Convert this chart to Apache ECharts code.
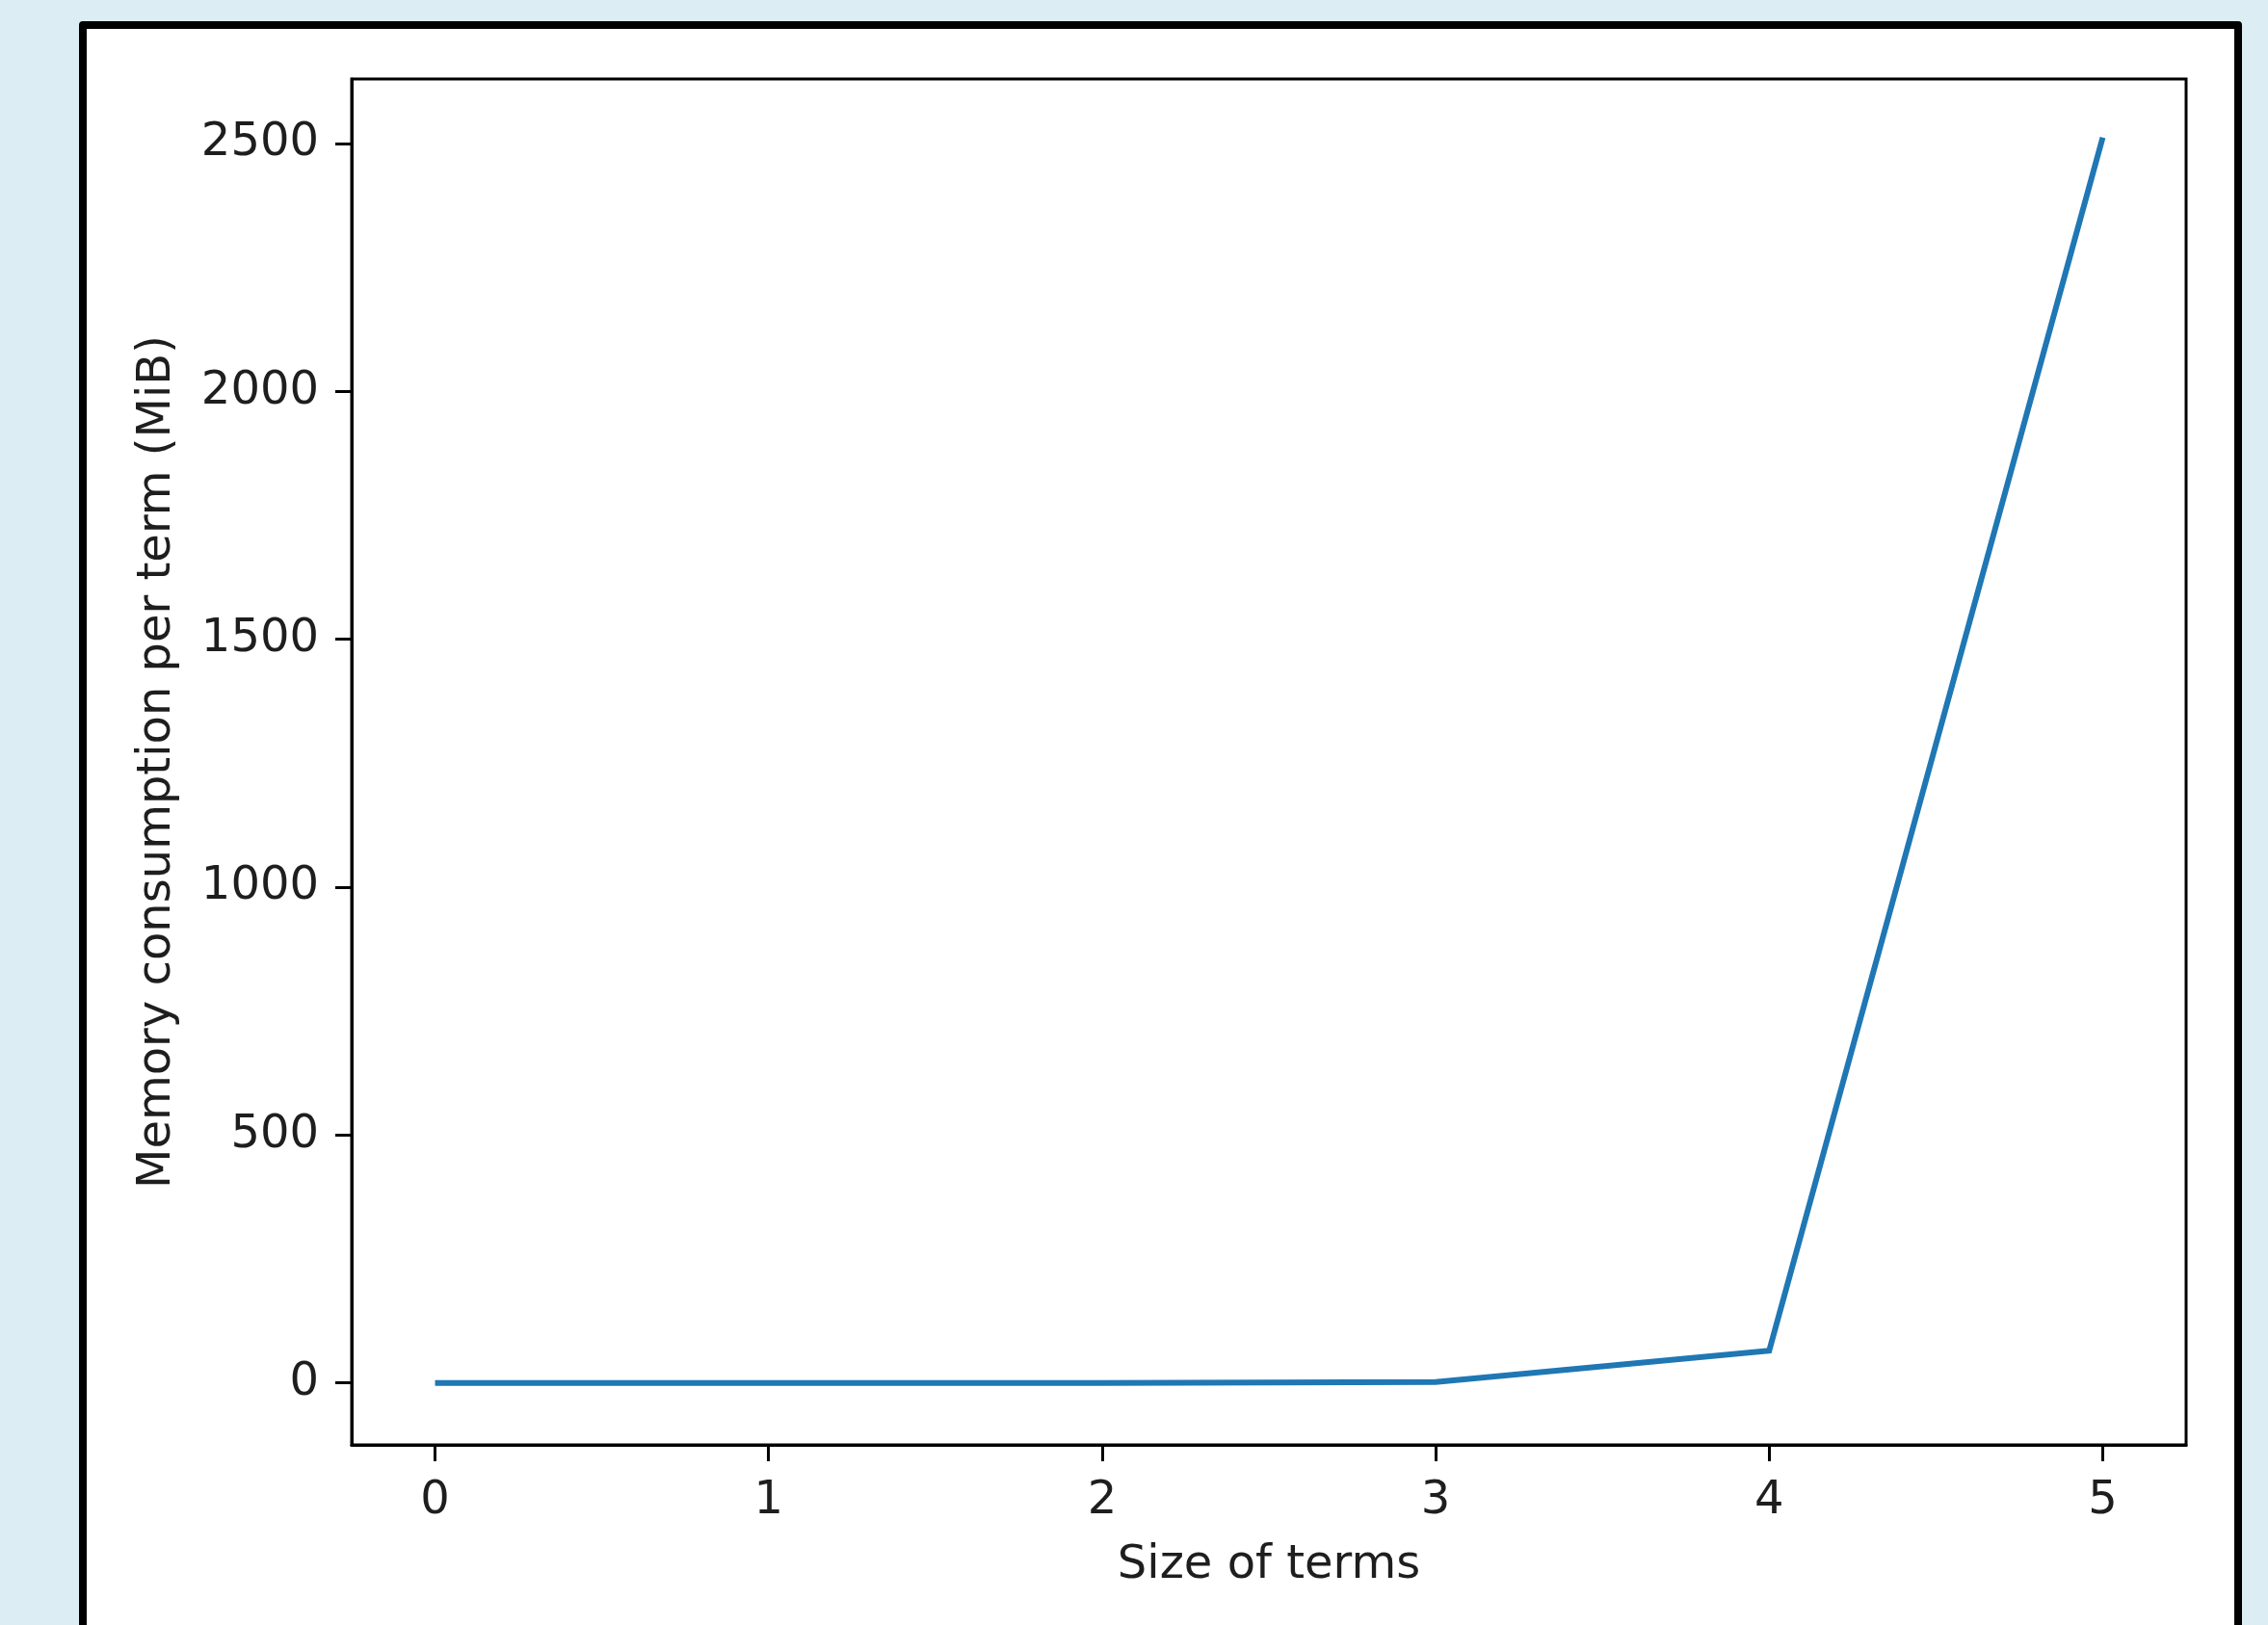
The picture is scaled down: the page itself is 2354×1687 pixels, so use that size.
<!DOCTYPE html>
<html>
<head>
<meta charset="utf-8">
<script src="https://cdn.jsdelivr.net/npm/echarts@6/dist/echarts.min.js"></script>
<style>
  html, body { margin: 0; padding: 0; width: 2354px; height: 1687px; overflow: hidden; background: rgb(220,238,243); }
  #frame { position: absolute; left: 82px; top: 22px; width: 2245px; height: 1720px; box-sizing: border-box;
           border: 8px solid #000; border-radius: 4px; background: #fff; }
  #chart { position: absolute; left: 0; top: 0; width: 2354px; height: 1687px; }
</style>
</head>
<body>
<div id="frame"></div>
<div id="chart"></div>
<script>
// Data
const sizes = [0, 1, 2, 3, 4, 5];
const memoryMiB = [0, 0, 0, 2, 65, 2512];
const xTickValues = [0, 1, 2, 3, 4, 5];
const yTickValues = [0, 500, 1000, 1500, 2000, 2500];
const xAxisName = 'Size of terms';
const yAxisName = 'Memory consumption per term (MiB)';

const seriesData = sizes.map((s, i) => [s, memoryMiB[i]]);

const FONT = 'DejaVu Sans';
const TXT = '#1e1e1e';

const chart = echarts.init(document.getElementById('chart'), null, { renderer: 'canvas' });
chart.setOption({
  backgroundColor: 'transparent',
  animation: false,
  grid: {
    left: 365, top: 82, width: 1904, height: 1418,
    show: true, borderColor: '#000', borderWidth: 3, backgroundColor: 'transparent',
    containLabel: false, outerBoundsMode: 'none'
  },
  xAxis: {
    type: 'value', min: -0.25, max: 5.25,
    name: xAxisName, nameLocation: 'middle', nameGap: 102,
    nameTextStyle: { fontFamily: FONT, fontSize: 48, color: TXT },
    axisLine: { show: true, onZero: false, lineStyle: { color: '#000', width: 3 } },
    axisTick: { show: true, inside: false, length: 17, lineStyle: { color: '#000', width: 3 }, customValues: xTickValues },
    axisLabel: { show: true, margin: 35, fontFamily: FONT, fontSize: 48, color: TXT, customValues: xTickValues,
                 formatter: v => String(v) },
    splitLine: { show: false }
  },
  yAxis: {
    type: 'value', min: -125, max: 2630,
    name: yAxisName, nameLocation: 'middle', nameGap: 177, nameRotate: 90,
    nameTextStyle: { fontFamily: FONT, fontSize: 48, color: TXT },
    axisLine: { show: true, onZero: false, lineStyle: { color: '#000', width: 3 } },
    axisTick: { show: true, inside: false, length: 17, lineStyle: { color: '#000', width: 3 }, customValues: yTickValues },
    axisLabel: { show: true, margin: 34, fontFamily: FONT, fontSize: 48, color: TXT, customValues: yTickValues,
                 formatter: v => String(v) },
    splitLine: { show: false }
  },
  series: [{
    type: 'line',
    data: seriesData,
    showSymbol: false,
    symbol: 'none',
    smooth: false,
    lineStyle: { color: '#1f77b4', width: 6, cap: 'butt', join: 'miter' },
    itemStyle: { color: '#1f77b4' },
    clip: true
  }]
});
</script>
</body>
</html>
